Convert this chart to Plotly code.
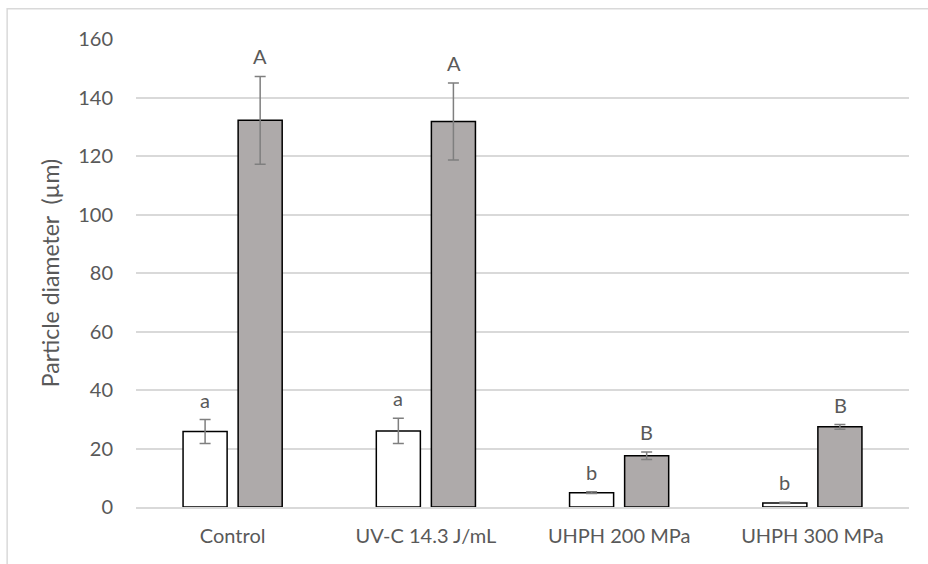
import plotly.graph_objects as go

categories = ["Control", "UV-C 14.3 J/mL", "UHPH 200 MPa", "UHPH 300 MPa"]
series1_values = [25.8, 26.0, 4.9, 1.4]
series1_errors = [4.1, 4.3, 0.3, 0.2]
series1_letters = ["a", "a", "b", "b"]
series2_values = [132.2, 131.8, 17.5, 27.4]
series2_errors = [15.0, 13.2, 1.3, 0.8]
series2_letters = ["A", "A", "B", "B"]
y_ticks = [0, 20, 40, 60, 80, 100, 120, 140, 160]

FONT = "Lato"
TXT = "#595959"

fig = go.Figure()
fig.add_trace(go.Bar(
    x=categories, y=series1_values, name="Series 1",
    marker=dict(color="#FFFFFF", line=dict(color="#000000", width=1.5)),
    error_y=dict(type="data", array=series1_errors, visible=True,
                 color="#7F7F7F", thickness=1.5, width=5.5),
    offsetgroup="1",
))
fig.add_trace(go.Bar(
    x=categories, y=series2_values, name="Series 2",
    marker=dict(color="#AEAAAA", line=dict(color="#000000", width=1.5)),
    error_y=dict(type="data", array=series2_errors, visible=True,
                 color="#7F7F7F", thickness=1.5, width=5.5),
    offsetgroup="2",
))

annotations = []
for i, cat in enumerate(categories):
    for vals, errs, letters, shift in (
        (series1_values, series1_errors, series1_letters, -0.143),
        (series2_values, series2_errors, series2_letters, 0.143),
    ):
        annotations.append(dict(
            x=i + shift, y=vals[i] + errs[i], xref="x", yref="y",
            text=letters[i], showarrow=False, yanchor="bottom", yshift=6,
            font=dict(family=FONT, size=20, color=TXT),
        ))

fig.update_layout(
    width=928, height=564,
    margin=dict(l=136, r=19, t=39, b=57),
    paper_bgcolor="white", plot_bgcolor="white",
    showlegend=False,
    barmode="group", bargap=0.43, bargroupgap=0.2,
    annotations=annotations,
    shapes=[dict(type="rect", xref="paper", yref="paper",
                 x0=-0.1667, x1=1.05, y0=-0.2, y1=1.0645,
                 line=dict(color="#D9D9D9", width=1.5), layer="below")],
    xaxis=dict(
        type="category", categoryorder="array", categoryarray=categories,
        showline=True, linecolor="#D9D9D9", linewidth=1.5,
        ticks="", tickfont=dict(family=FONT, size=20, color=TXT),
        ticklabelstandoff=10, showgrid=False, zeroline=False,
    ),
    yaxis=dict(
        range=[0, 160], tickvals=y_ticks,
        showgrid=True, gridcolor="#D9D9D9", gridwidth=1.5,
        zeroline=False, showline=False, ticks="",
        tickfont=dict(family=FONT, size=20, color=TXT),
        ticklabelstandoff=22,
        title=dict(text="Particle diameter  (µm)", standoff=12,
                   font=dict(family=FONT, size=23, color=TXT)),
    ),
)

fig.write_html("out.html")
